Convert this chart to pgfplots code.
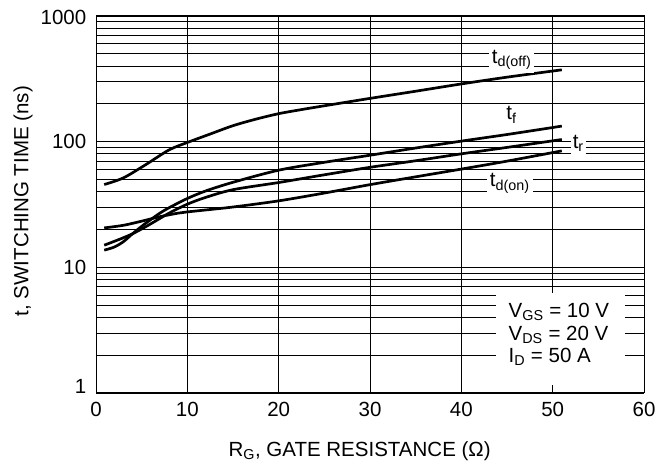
\documentclass[border=0pt]{standalone}
\usepackage{pgfplots}
\pgfplotsset{compat=1.18}
\usepackage{fontspec}
\setmainfont{Liberation Sans}
\newcommand\fz{\fontsize{20.5bp}{24bp}\selectfont}
\newcommand\sub[1]{\textsubscript{#1}}
\begin{document}
\begin{tikzpicture}
  \begin{axis}[name=ax, scale only axis, width=548bp, height=377bp,
      xmin=0, xmax=60, ymin=1, ymax=1000, ymode=log,
      xtick={0,10,...,60}, xticklabels={0,10,20,30,40,50,60},
      ytick={1,10,100,1000},
      yticklabels={\raisebox{6bp}{1},10,100,\raisebox{-2bp}{1000}},
      minor ytick={2,3,...,9,20,30,...,90,200,300,...,900},
      major tick length=0pt, minor tick length=0pt,
      xmajorgrids, ymajorgrids, yminorgrids,
      grid style={black, line width=0.9bp},
      minor grid style={black, line width=0.9bp},
      axis line style={line width=1bp},
      tick label style={font=\fz, inner sep=0pt},
      xticklabel style={anchor=base, yshift=-24bp},
      yticklabel style={anchor=base east, xshift=-9.5bp, yshift=-7bp},
      label style={font=\fz},
      xlabel={R\sub{G}, GATE RESISTANCE (Ω)},
      ylabel={t, SWITCHING TIME (ns)},
      xlabel style={at={(axis description cs:0.481,-0.169)}, anchor=base},
      ylabel style={at={(axis description cs:-0.1235,0.509)}, anchor=base},
      curve/.style={black, line width=2.7bp, smooth, mark=none},
    ]
    % t_d(off)
    \addplot[curve] coordinates {(0.9,45.6) (3,51.5) (5.5,66) (8,86) (10,98.5) (12.5,115) (15,134) (17.5,151) (20,167) (22.5,180) (25,193) (30,221) (35,252) (40,288) (45,326) (51,373)};
    % t_f
    \addplot[curve] coordinates {(0.9,13.7) (2,14.5) (3,16) (4,18.5) (5,21.2) (6,24) (7,27) (8,29.8) (10,35.3) (12,40.5) (15,47.5) (20,59.3) (25,68.5) (30,78) (35,89) (40,101) (45,114) (51,133)};
    % t_r
    \addplot[curve] coordinates {(0.9,15) (2,16.1) (3,17.2) (4,18.5) (5,20.2) (6,22.2) (7,24.5) (8,27) (10,31.8) (12,36) (15,41.5) (20,47.3) (25,54.5) (30,62.5) (35,70.5) (40,80) (45,90) (51,104)};
    % t_d(on)
    \addplot[curve] coordinates {(0.9,20.6) (3,21.6) (5,23.3) (7,25.3) (9,27) (10,27.6) (12,28.6) (15,30.2) (20,33.8) (25,39) (30,45.5) (35,52.5) (40,60.5) (45,70) (51,84.5)};

    \node[fill=white, inner sep=3bp, font=\fz] at (axis cs:45.5,446) {t\sub{d(off)}};
    \node[fill=white, inner sep=2bp, font=\fz] at (axis cs:45.5,163) {t\sub{f}};
    \node[fill=white, inner sep=2bp, font=\fz] at (axis cs:52.8,97) {t\sub{r}};
    \node[fill=white, inner sep=3bp, font=\fz] at (axis cs:45.3,46.5) {t\sub{d(on)}};
    \fill[white] (axis cs:43.75,1.15) rectangle (axis cs:57.9,6.2);
    \node[anchor=west, font=\fz] at (axis cs:44.8,4.45) {V\sub{GS} = 10 V};
    \node[anchor=west, font=\fz] at (axis cs:44.8,2.9) {V\sub{DS} = 20 V};
    \node[anchor=west, font=\fz] at (axis cs:44.8,1.95) {I\sub{D} = 50 A};
    \draw[line width=2.7bp, line cap=rect] (rel axis cs:0,1) -- (rel axis cs:0,0) -- (rel axis cs:1,0);
  \end{axis}
  \pgfresetboundingbox
  \path ([shift={(-96bp,-71bp)}]ax.south west) rectangle ([shift={(15bp,16bp)}]ax.north east);
\end{tikzpicture}
\end{document}
